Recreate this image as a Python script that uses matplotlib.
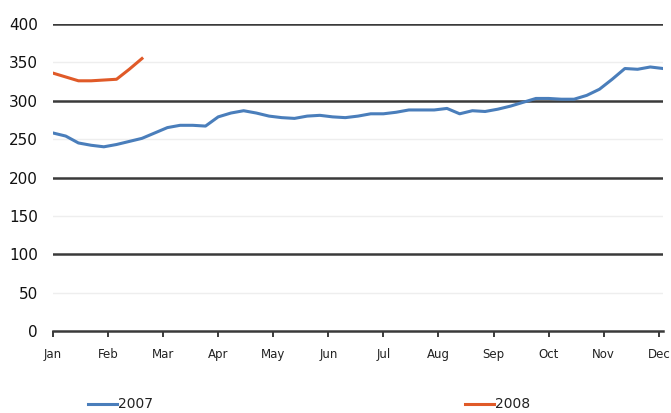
import numpy as np
import matplotlib
matplotlib.use("Agg")
import matplotlib.pyplot as plt
from matplotlib.lines import Line2D

# weekly values, x in weeks from the start of January
values_2007 = [258, 254, 245, 242, 240, 243, 247, 251, 258, 265,
               268, 268, 267, 279, 284, 287, 284, 280, 278, 277,
               280, 281, 279, 278, 280, 283, 283, 285, 288, 288,
               288, 290, 283, 287, 286, 289, 293, 298, 303, 303,
               302, 302, 307, 315, 328, 342, 341, 344, 342]
values_2008 = [336, 331, 326, 326, 327, 328, 341, 355]

months = ["Jan", "Feb", "Mar", "Apr", "May", "Jun",
          "Jul", "Aug", "Sep", "Oct", "Nov", "Dec"]
y_ticks = [0, 50, 100, 150, 200, 250, 300, 350, 400]

BLUE = "#4a7ebb"
ORANGE = "#e05a28"

fig = plt.figure(figsize=(6.71, 4.13), dpi=100)
ax = fig.add_axes([53 / 671, 1 - 331 / 413, 610 / 671, 307 / 413])

# horizontal guides: dark every 100, faint in between
for v in y_ticks[1:]:
    if v % 100 == 0:
        ax.axhline(v, color="#3a3a3a", lw=1.8, zorder=1)
    else:
        ax.axhline(v, color="#eeeeee", lw=1.0, zorder=1)

weeks_07 = np.arange(len(values_2007))
weeks_08 = np.arange(len(values_2008))
ax.plot(weeks_07, values_2007, color=BLUE, lw=2.2, zorder=3)
ax.plot(weeks_08, values_2008, color=ORANGE, lw=2.2, zorder=3)

ax.set_xlim(0, 48.0)
ax.set_ylim(0, 400)
ax.set_yticks(y_ticks)
ax.set_yticklabels([str(v) for v in y_ticks], fontsize=11, color="#111111")
ax.tick_params(axis="y", length=0, pad=11)

ax.set_xticks(np.arange(len(months)) * 52 / 12)
ax.set_xticklabels(months, fontsize=8.5, color="#222222")
ax.tick_params(axis="x", direction="out", length=4, width=1.4,
               color="#3a3a3a", pad=8)

for side in ["top", "right", "left"]:
    ax.spines[side].set_visible(False)
ax.spines["bottom"].set_color("#3a3a3a")
ax.spines["bottom"].set_linewidth(1.8)
ax.spines["bottom"].set_zorder(4)

# legend laid out by hand across the bottom
leg_y = 1 - 404 / 413
for x0, x1, color, label in [(88, 117, BLUE, "2007"), (465, 494, ORANGE, "2008")]:
    fig.add_artist(Line2D([x0 / 671, x1 / 671], [leg_y, leg_y],
                          color=color, lw=2.2, transform=fig.transFigure))
    fig.text((x1 + 1) / 671, leg_y, label, fontsize=10, color="#222222",
             va="center", ha="left")

fig.savefig("out.png", dpi=100, facecolor="white")
